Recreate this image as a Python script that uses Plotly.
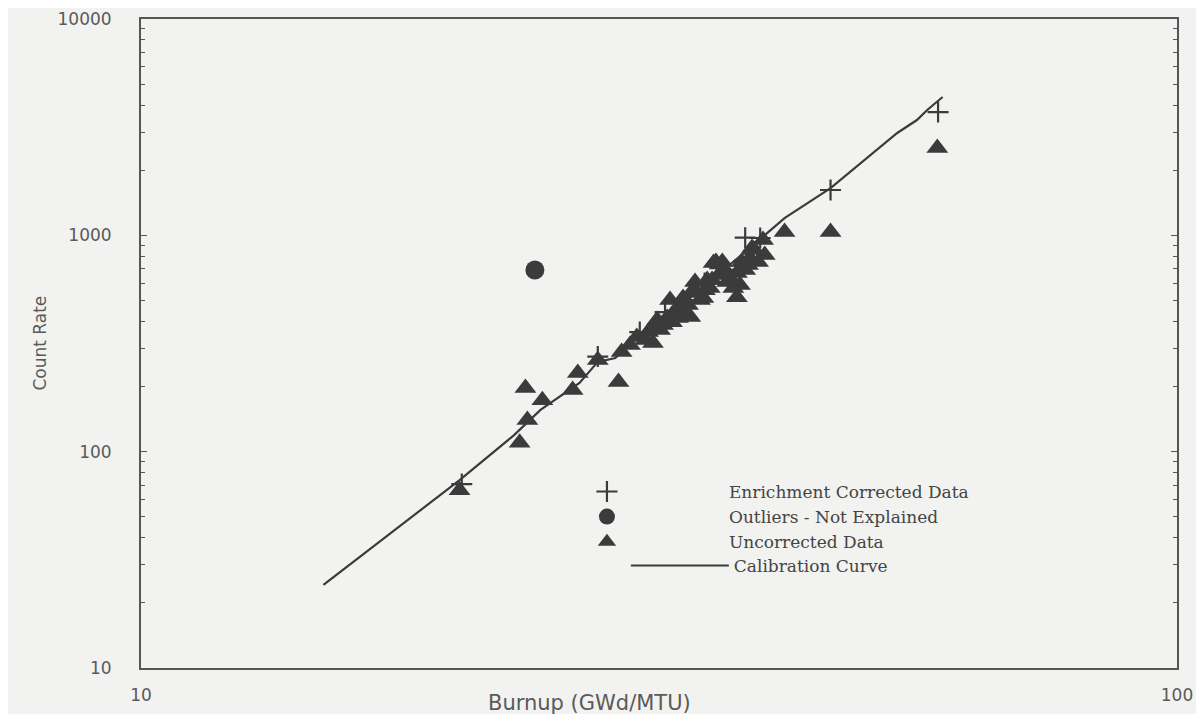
import plotly.graph_objects as go

# ---- data (Burnup GWd/MTU, Count Rate) ----
corrected_x = [20.4, 27.6, 30.3, 32.05, 33.9, 35.0, 36.2, 37.45, 38.3, 39.6, 46.3, 58.8]
corrected_y = [70.8, 275, 357, 442, 502, 602, 706, 692, 975, 972, 1620, 3715]

outlier_x = [24.0]
outlier_y = [691]

uncorrected_x = [20.3, 23.2, 23.6, 23.5, 24.4, 26.1, 26.4, 27.6, 28.9,
                 29.1, 29.65, 30.1, 30.66, 31.2, 31.2, 31.7, 32.2, 32.55, 32.8,
                 33.1, 33.5, 33.9, 34.1, 34.4, 34.9, 35.2, 35.4, 35.7, 36.1,
                 36.4, 36.8, 37.3, 37.6, 37.6, 38.0, 38.3, 38.7, 39.1, 39.85,
                 40.0, 41.8, 46.3, 58.7,
                 30.87, 31.49, 31.91, 32.41, 32.99, 33.36, 33.73, 34.26, 34.64,
                 35.02, 35.58, 35.89, 36.62, 37.03, 37.86, 38.54, 38.89, 39.41]
uncorrected_y = [66.4, 110, 140, 197, 173, 193, 231, 265, 210,
                 289, 311, 339, 328, 318, 377, 365, 415, 397, 451,
                 466, 428, 419, 558, 541, 513, 621, 571, 745, 655,
                 753, 608, 571, 518, 670, 753, 691, 785, 855, 951,
                 811, 1035, 1035, 2533,
                 357, 406, 385, 502, 415, 513, 476, 608, 502,
                 558, 621, 753, 691, 635, 589, 729, 874, 753]

calib_x = [15.0, 20.3, 22.9, 24.3, 26.5, 27.6, 28.7, 31.0, 34.6,
           38.7, 41.8, 46.3, 53.7, 56.1, 57.4, 59.4]
calib_y = [24.2, 73.9, 119, 156, 208, 260, 271, 385, 559,
           874, 1202, 1654, 2972, 3412, 3795, 4359]

x_tick_vals = [10, 100]
x_tick_text = ["10", "100"]
y_tick_vals = [10, 100, 1000, 10000]
y_tick_text = ["10", "100", "1000", "10000"]

INK = "#3b3b3b"
BG = "#f2f2f0"
TXT = "#5a5a5a"

fig = go.Figure()
fig.add_trace(go.Scatter(
    x=corrected_x, y=corrected_y, mode="markers", name="Enrichment Corrected Data",
    marker=dict(symbol="cross-thin", size=15, line=dict(width=2.2, color=INK), color=INK)))
fig.add_trace(go.Scatter(
    x=outlier_x, y=outlier_y, mode="markers", name="Outliers - Not Explained",
    marker=dict(symbol="circle", size=19, color=INK)))
fig.add_trace(go.Scatter(
    x=uncorrected_x, y=uncorrected_y, mode="markers", name="Uncorrected Data",
    marker=dict(symbol="triangle-up", size=19, color=INK)))
fig.add_trace(go.Scatter(
    x=calib_x, y=calib_y, mode="lines", name="Calibration Curve",
    line=dict(color=INK, width=2.2), legend="legend2"))

axis_common = dict(
    type="log", showline=True, mirror="ticks", linecolor="#555", linewidth=2,
    showgrid=False, zeroline=False, automargin=False,
    tickfont=dict(family="DejaVu Sans", size=17, color=TXT),
)

fig.update_xaxes(
    **axis_common, range=[1, 2], tickvals=x_tick_vals, ticktext=x_tick_text,
    ticks="", ticklabelstandoff=11,
)
fig.update_yaxes(
    **axis_common, range=[1, 4], tickvals=y_tick_vals, ticktext=y_tick_text,
    ticks="inside", ticklen=6, tickcolor="#555", ticklabelstandoff=24,
    minor=dict(ticks="inside", ticklen=4, tickcolor="#555",
               tickvals=[v * m for v in [10, 100, 1000] for m in range(2, 10)]),
)

fig.add_annotation(text="Burnup (GWd/MTU)", xref="paper", yref="paper",
                   x=0.433, y=-0.054, yanchor="middle", showarrow=False,
                   font=dict(family="DejaVu Sans", size=21, color=TXT))
fig.add_annotation(text="Count Rate", xref="paper", yref="paper",
                   x=-0.110, y=0.5, textangle=-90, showarrow=False,
                   font=dict(family="DejaVu Sans", size=17, color=TXT))

legend_font = dict(family="DejaVu Serif", size=17, color="#444")
fig.update_layout(
    width=1188, height=706,
    margin=dict(l=133, r=19, t=11, b=46),
    paper_bgcolor=BG, plot_bgcolor=BG,
    showlegend=True,
    legend=dict(x=0.332, y=0.299, xanchor="left", yanchor="top",
                bgcolor="rgba(0,0,0,0)", itemwidth=234, font=legend_font),
    legend2=dict(x=0.468, y=0.185, xanchor="left", yanchor="top",
                 bgcolor="rgba(0,0,0,0)", itemwidth=98, font=legend_font),
)

fig.write_html("out.html")
